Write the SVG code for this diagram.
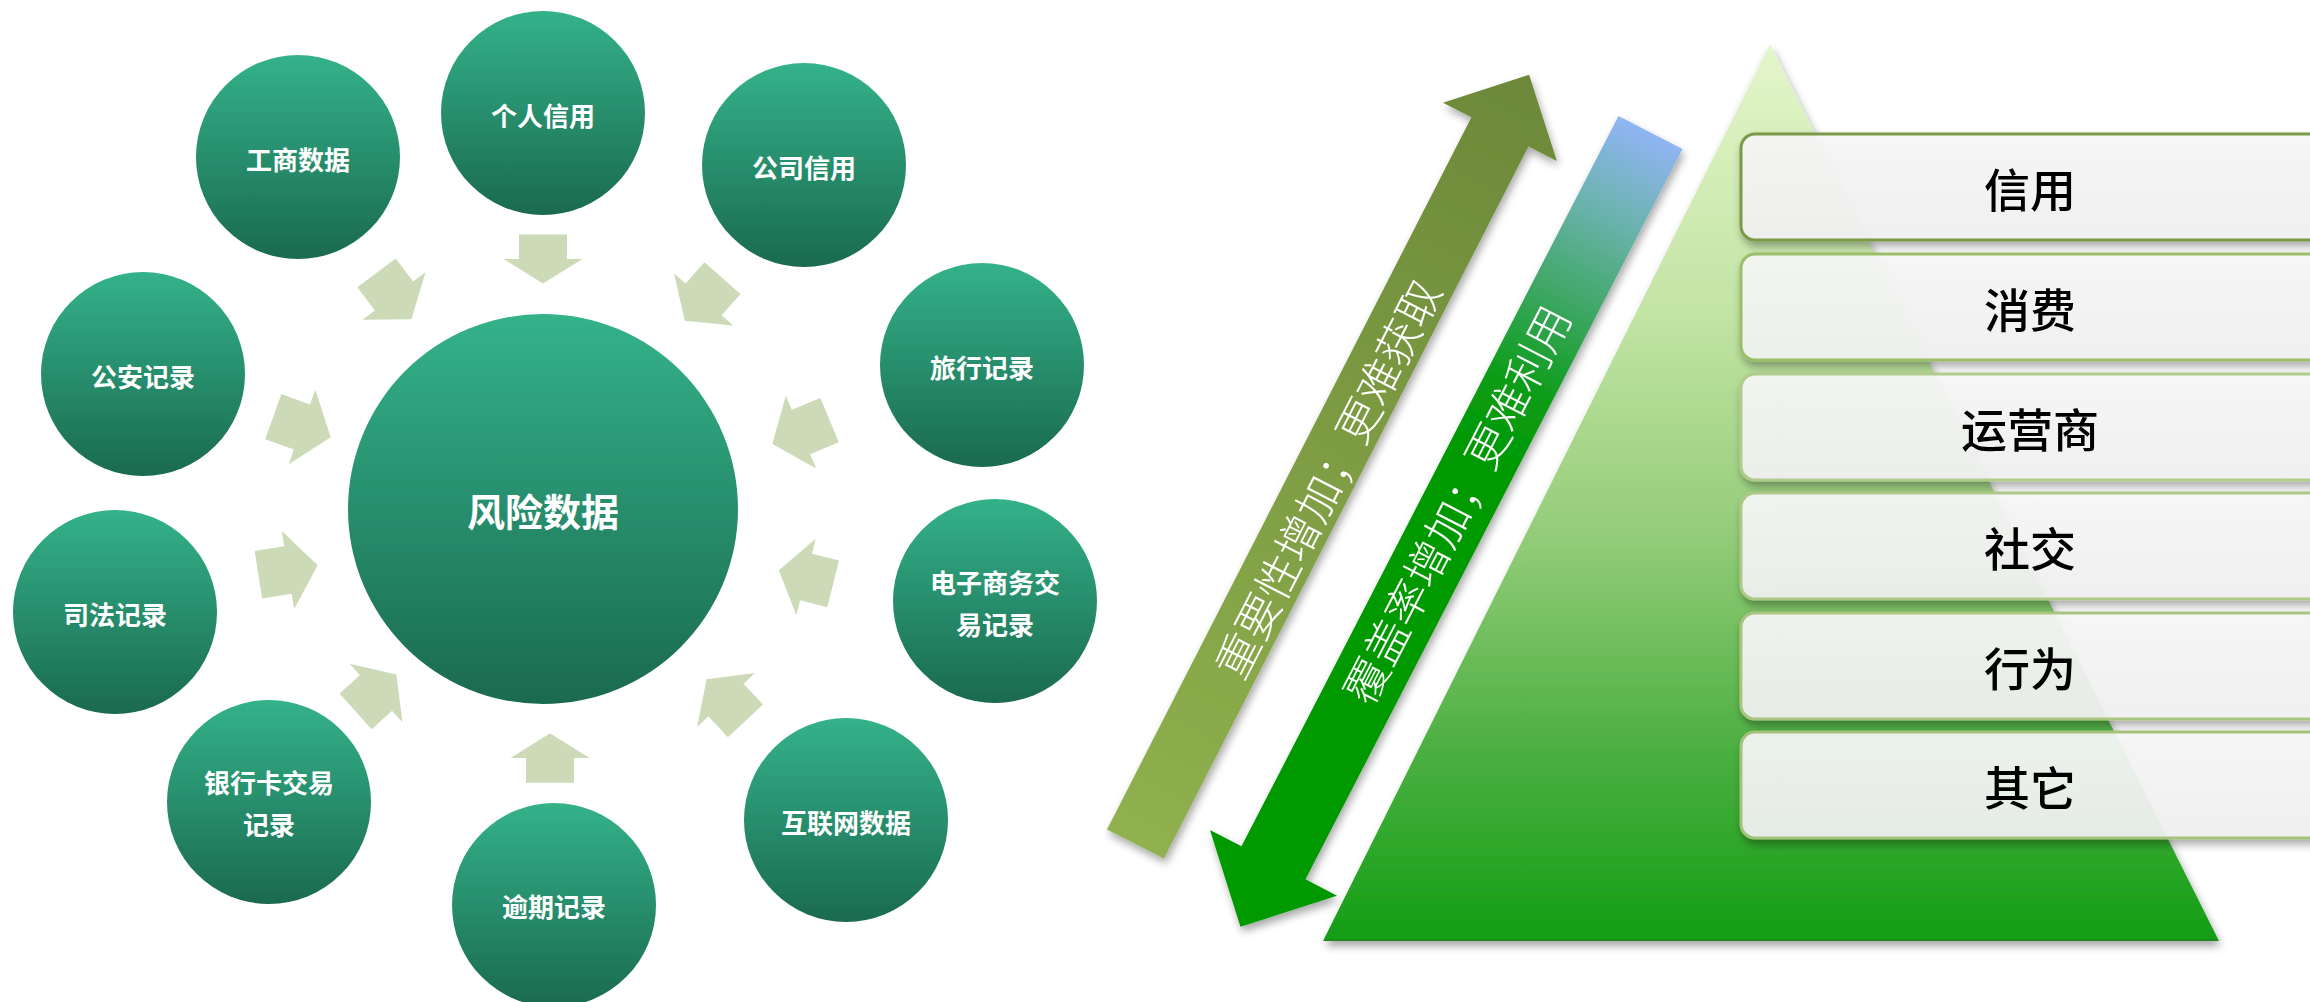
<svg xmlns="http://www.w3.org/2000/svg" xmlns:xlink="http://www.w3.org/1999/xlink" width="2310" height="1002" viewBox="0 0 2310 1002">
<defs>
<style>
.lbl{font-family:"Noto Sans CJK SC","Noto Sans",sans-serif;font-weight:bold;fill:#fff;text-anchor:middle;dominant-baseline:central}
.box{fill:url(#boxg);fill-opacity:0.92;stroke-width:3}
.btxt{font-family:"Noto Sans CJK SC",sans-serif;font-weight:500;font-size:46px;fill:#000;text-anchor:middle;dominant-baseline:central}
.dtxt{font-family:"Noto Sans CJK SC",sans-serif;font-weight:300;font-size:44px;fill:#fff;text-anchor:middle;dominant-baseline:central}
.blk{fill:#CDDAB7}
</style>
<linearGradient id="cg" x1="0" y1="0" x2="0" y2="1">
<stop offset="0" stop-color="#34B28A"/>
<stop offset="1" stop-color="#1A6A4F"/>
</linearGradient>
<linearGradient id="pyr" x1="0" y1="44" x2="0" y2="941" gradientUnits="userSpaceOnUse">
<stop offset="0" stop-color="#E4F6CA"/>
<stop offset="0.3" stop-color="#C2E4A4"/>
<stop offset="0.55" stop-color="#93CC78"/>
<stop offset="0.78" stop-color="#4EB043"/>
<stop offset="1" stop-color="#139E14"/>
</linearGradient>
<linearGradient id="boxg" x1="0" y1="0" x2="0" y2="1">
<stop offset="0" stop-color="#F8F8F8"/>
<stop offset="1" stop-color="#F2F2F2"/>
</linearGradient>
<linearGradient id="olive" x1="0" y1="0" x2="864" y2="0" gradientUnits="userSpaceOnUse">
<stop offset="0" stop-color="#90B14E"/>
<stop offset="1" stop-color="#6C8839"/>
</linearGradient>
<linearGradient id="grn" x1="0" y1="0" x2="894" y2="0" gradientUnits="userSpaceOnUse">
<stop offset="0" stop-color="#90B5F4"/>
<stop offset="0.1" stop-color="#6CB3B0"/>
<stop offset="0.2" stop-color="#43A86B"/>
<stop offset="0.32" stop-color="#0C9C18"/>
<stop offset="0.42" stop-color="#009900"/>
<stop offset="1" stop-color="#009900"/>
</linearGradient>
<filter id="sh" x="-10%" y="-10%" width="120%" height="130%">
<feGaussianBlur in="SourceAlpha" stdDeviation="4"/>
<feOffset dx="2" dy="5" result="b"/>
<feComponentTransfer><feFuncA type="linear" slope="0.35"/></feComponentTransfer>
<feMerge><feMergeNode/><feMergeNode in="SourceGraphic"/></feMerge>
</filter>
<polygon id="ba" points="-25,-24 0,-24 0,-39.5 25,0 0,39.5 0,24 -25,24"/>
</defs>
<rect width="2310" height="1002" fill="#fff"/>

<g id="connectors">
<use xlink:href="#ba" class="blk" transform="translate(543,259) rotate(90) scale(0.98,1)"/>
<use xlink:href="#ba" class="blk" transform="translate(394,296) rotate(53) scale(1.16,1)"/>
<use xlink:href="#ba" class="blk" transform="translate(703.6,299.4) rotate(131.4) scale(1.14,1)"/>
<use xlink:href="#ba" class="blk" transform="translate(302,427) rotate(19.7) scale(1.22,1)"/>
<use xlink:href="#ba" class="blk" transform="translate(801,432) rotate(157.4) scale(1.24,1)"/>
<use xlink:href="#ba" class="blk" transform="translate(288,570) rotate(-9) scale(1.2,1)"/>
<use xlink:href="#ba" class="blk" transform="translate(806,577) rotate(-165.8) scale(1.12,1)"/>
<use xlink:href="#ba" class="blk" transform="translate(376,693) rotate(-42) scale(1.1,1)"/>
<use xlink:href="#ba" class="blk" transform="translate(726,700) rotate(-133) scale(1.14,1)"/>
<use xlink:href="#ba" class="blk" transform="translate(550,758) rotate(-90) scale(0.99,1)"/>
</g>

<g id="center">
<circle cx="543" cy="509" r="195" fill="url(#cg)"/>
<text class="lbl" x="543" y="509" font-size="38">风险数据</text>
</g>
<g id="n-grxy"><circle cx="543" cy="113" r="102" fill="url(#cg)"/><text class="lbl" x="543" y="114" font-size="26">个人信用</text></g>
<g id="n-gssj"><circle cx="298" cy="157" r="102" fill="url(#cg)"/><text class="lbl" x="298" y="158" font-size="26">工商数据</text></g>
<g id="n-gsxy"><circle cx="804" cy="165" r="102" fill="url(#cg)"/><text class="lbl" x="804" y="166" font-size="26">公司信用</text></g>
<g id="n-gajl"><circle cx="143" cy="374" r="102" fill="url(#cg)"/><text class="lbl" x="143" y="375" font-size="26">公安记录</text></g>
<g id="n-lxjl"><circle cx="982" cy="365" r="102" fill="url(#cg)"/><text class="lbl" x="982" y="366" font-size="26">旅行记录</text></g>
<g id="n-sfjl"><circle cx="115" cy="612" r="102" fill="url(#cg)"/><text class="lbl" x="115" y="613" font-size="26">司法记录</text></g>
<g id="n-dzsw"><circle cx="995" cy="601" r="102" fill="url(#cg)"/><text class="lbl" x="995" y="581" font-size="26">电子商务交</text><text class="lbl" x="995" y="623" font-size="26">易记录</text></g>
<g id="n-yhk"><circle cx="269" cy="802" r="102" fill="url(#cg)"/><text class="lbl" x="269" y="781" font-size="26">银行卡交易</text><text class="lbl" x="269" y="823" font-size="26">记录</text></g>
<g id="n-hlw"><circle cx="846" cy="820" r="102" fill="url(#cg)"/><text class="lbl" x="846" y="821" font-size="26">互联网数据</text></g>
<g id="n-yqjl"><circle cx="554" cy="905" r="102" fill="url(#cg)"/><text class="lbl" x="554" y="905" font-size="26">逾期记录</text></g>

<g id="arrow-importance" filter="url(#sh)">
<polygon transform="translate(1135.5,844) rotate(-62.9)" points="0,-32 800,-32 800,-64 864,0 800,64 800,32 0,32" fill="url(#olive)"/>
<text class="dtxt" transform="translate(1326,478) rotate(-62.9)">重要性增加；更难获取</text>
</g>
<g id="arrow-coverage" filter="url(#sh)">
<polygon transform="translate(1650.5,132.4) rotate(117.3)" points="0,-36 822,-36 822,-71.5 894,0 822,71.5 822,36 0,36" fill="url(#grn)"/>
<text class="dtxt" transform="translate(1455,503.5) rotate(-62.7)">覆盖率增加；更难利用</text>
</g>

<g id="pyramid" filter="url(#sh)">
<polygon points="1770,44 2219,941 1323,941" fill="url(#pyr)"/>
<line x1="1325" y1="940" x2="2217" y2="940" stroke="#1A8A1A" stroke-width="2"/>
</g>

<g id="b1" filter="url(#sh)"><rect class="box" x="1741" y="134" width="585" height="106" rx="14" stroke="#7A9A47"/><text class="btxt" x="2030" y="187">信用</text></g>
<g id="b2" filter="url(#sh)"><rect class="box" x="1741" y="254" width="585" height="106" rx="14" stroke="#9BBE67"/><text class="btxt" x="2030" y="307">消费</text></g>
<g id="b3" filter="url(#sh)"><rect class="box" x="1741" y="374" width="585" height="106" rx="14" stroke="#B0CB8C"/><text class="btxt" x="2030" y="427">运营商</text></g>
<g id="b4" filter="url(#sh)"><rect class="box" x="1741" y="493" width="585" height="106" rx="14" stroke="#ADC887"/><text class="btxt" x="2030" y="546">社交</text></g>
<g id="b5" filter="url(#sh)"><rect class="box" x="1741" y="613" width="585" height="106" rx="14" stroke="#A9C581"/><text class="btxt" x="2030" y="666">行为</text></g>
<g id="b6" filter="url(#sh)"><rect class="box" x="1741" y="732" width="585" height="106" rx="14" stroke="#A5C27C"/><text class="btxt" x="2030" y="785">其它</text></g>
</svg>
